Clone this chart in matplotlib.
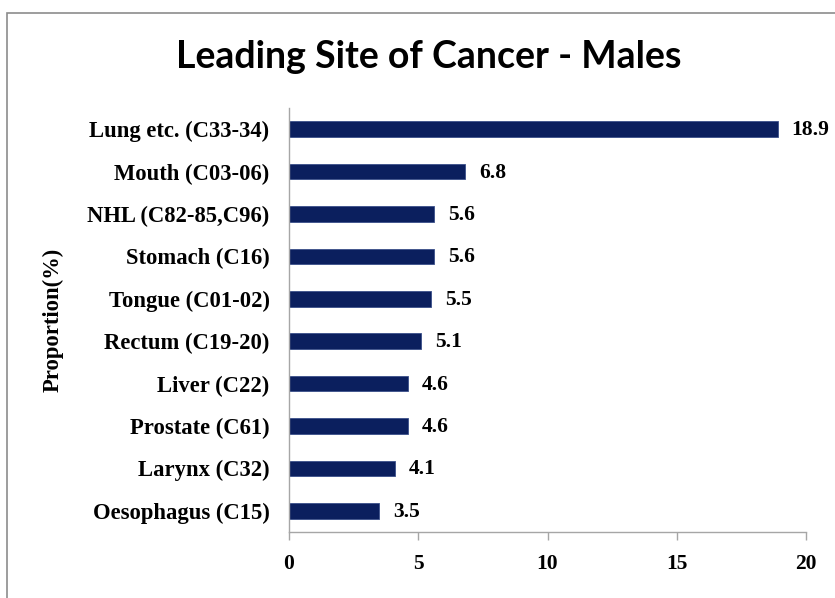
import matplotlib
matplotlib.use("Agg")
import matplotlib.pyplot as plt
from matplotlib.patches import Rectangle

categories = ["Lung etc. (C33-34)", "Mouth (C03-06)", "NHL (C82-85,C96)", "Stomach (C16)",
              "Tongue (C01-02)", "Rectum (C19-20)", "Liver (C22)", "Prostate (C61)",
              "Larynx (C32)", "Oesophagus (C15)"]
values = [18.9, 6.8, 5.6, 5.6, 5.5, 5.1, 4.6, 4.6, 4.1, 3.5]
xticks = [0, 5, 10, 15, 20]

fig = plt.figure(figsize=(8.35, 5.98), dpi=100)
fig.patches.append(Rectangle((7/835, -0.1), 1.2, 1 - 13/598 + 0.1, transform=fig.transFigure,
                             fill=False, edgecolor="#8c8c8c", linewidth=1.2))
ax = fig.add_axes([289/835, (598-532)/598, (806-289)/835, (532-108)/598])

serif = dict(family="Liberation Serif", weight="bold", size=15.5)
serif_big = dict(family="Liberation Serif", weight="bold", size=16.3)
pos = list(range(len(categories)))[::-1]
ax.barh(pos, values, height=0.37, color="#0B1F5E", edgecolor="#3a4f8a", linewidth=0.6)
for p, v in zip(pos, values):
    ax.annotate(f"{v}", (v, p), xytext=(14, -1), textcoords="offset pixels",
                va="center", ha="left", **serif)

ax.set_ylim(-0.5, len(categories) - 0.5)
ax.set_xlim(0, 20)
ax.set_xticks(xticks)
ax.set_xticklabels([str(t) for t in xticks], **serif)
ax.set_yticks(pos)
ax.set_yticklabels(categories, **serif_big)
ax.tick_params(axis="y", length=0, pad=14)
ax.tick_params(axis="x", length=6, width=1, color="#a6a6a6", pad=10, direction="out")
for s in ["top", "right"]:
    ax.spines[s].set_visible(False)
for s in ["left", "bottom"]:
    ax.spines[s].set_color("#a6a6a6")
    ax.spines[s].set_linewidth(1)
ax.set_ylabel("Proportion(%)", fontdict=serif_big)
ax.yaxis.set_label_coords(-0.436, 0.5)

fig.text(429/835, 1 - 57/598, "Leading Site of Cancer - Males", ha="center", va="center",
         family="Lato", weight="bold", size=27)

fig.savefig("out.png", dpi=100)
